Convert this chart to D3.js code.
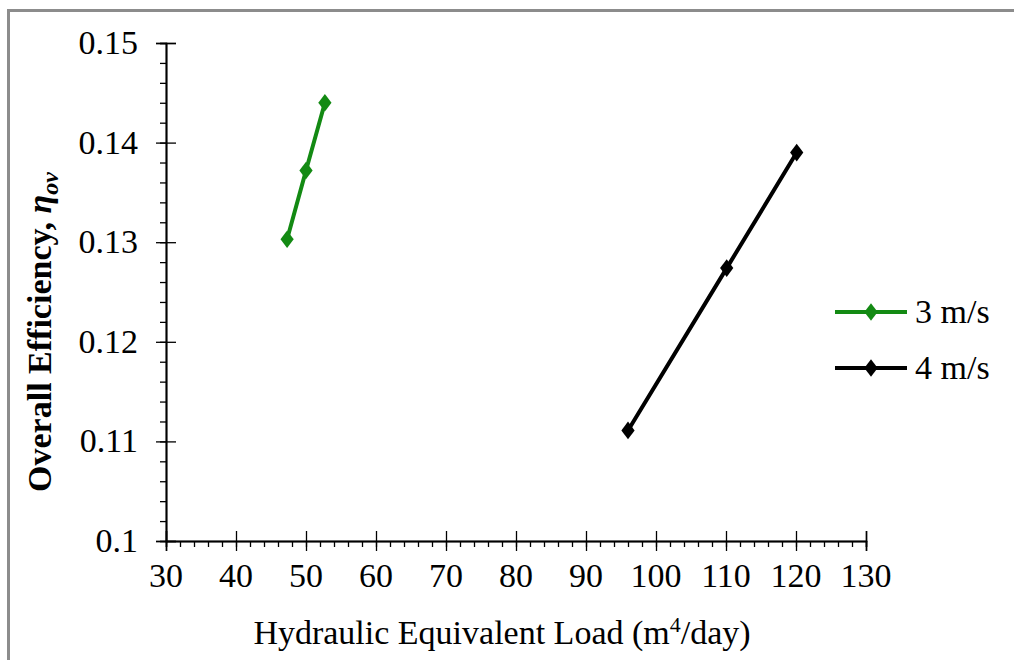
<!DOCTYPE html>
<html>
<head>
<meta charset="utf-8">
<script src="https://cdn.jsdelivr.net/npm/d3@7"></script>
<style>
  body { margin: 0; background: #fff; }
  svg { display: block; }
</style>
</head>
<body>
<div id="chart"></div>
<script>
// data
const series = ["3 m/s", "4 m/s"]
const colors = ["#138a13", "#000000"]
const loadX3 = [47.3, 50.0, 52.7]
const eff3 = [0.1303, 0.1372, 0.1440]
const loadX4 = [96.0, 110.1, 120.1]
const eff4 = [0.1111, 0.1274, 0.1390]
const xTicks = [30, 40, 50, 60, 70, 80, 90, 100, 110, 120, 130]
const yTicks = [0.1, 0.11, 0.12, 0.13, 0.14, 0.15]

const width = 1014, height = 660
const margin = {left: 166, top: 43}
const plotW = 700, plotH = 498

const svg = d3.select("#chart").append("svg")
  .attr("width", width)
  .attr("height", height)

// grey frame (right/bottom run off the picture)
svg.append("rect")
  .attr("x", 8.5).attr("y", 10.5)
  .attr("width", 1100).attr("height", 800)
  .attr("fill", "none")
  .attr("stroke", "#8c8c8c")
  .attr("stroke-width", 3)

const x = d3.scaleLinear().domain([30, 130]).range([margin.left, margin.left + plotW])
const y = d3.scaleLinear().domain([0.1, 0.15]).range([margin.top + plotH, margin.top])

const font = "'Liberation Serif', 'Times New Roman', serif"
const fs = "34px"

// x axis: minor ticks below, major ticks crossing
const xAxis = svg.append("g").attr("transform", `translate(0, ${y(0.1)})`)
xAxis.call(d3.axisBottom(x).tickValues(d3.range(30, 131, 2)).tickSize(6).tickFormat(""))
xAxis.append("g").call(d3.axisBottom(x).tickValues(xTicks).tickSize(10).tickFormat(""))
xAxis.append("g").call(d3.axisTop(x).tickValues(xTicks).tickSize(10).tickFormat(""))
xAxis.selectAll("path.domain").attr("stroke", "#000").attr("stroke-width", 1.5)
xAxis.selectAll("line").attr("stroke", "#000").attr("stroke-width", 1.3)
svg.append("g").selectAll("text")
  .data(xTicks).enter().append("text")
  .attr("x", d => x(d))
  .attr("y", y(0.1) + 46)
  .attr("text-anchor", "middle")
  .style("font-family", font)
  .style("font-size", fs)
  .text(d => d)

// y axis: minor ticks left, major ticks crossing
const yAxis = svg.append("g").attr("transform", `translate(${x(30)}, 0)`)
yAxis.call(d3.axisLeft(y).tickValues(d3.range(0, 26).map(i => 0.1 + i * 0.002)).tickSize(6).tickFormat(""))
yAxis.append("g").call(d3.axisLeft(y).tickValues(yTicks).tickSize(10).tickFormat(""))
yAxis.append("g").call(d3.axisRight(y).tickValues(yTicks).tickSize(10).tickFormat(""))
yAxis.selectAll("path.domain").attr("stroke", "#000").attr("stroke-width", 1.5)
yAxis.selectAll("line").attr("stroke", "#000").attr("stroke-width", 1.3)
svg.append("g").selectAll("text")
  .data(yTicks).enter().append("text")
  .attr("x", x(30) - 28)
  .attr("y", d => y(d) + 11)
  .attr("text-anchor", "end")
  .style("font-family", font)
  .style("font-size", fs)
  .text(d => d)

// series
const data = [
  loadX3.map((v, i) => ({x: v, y: eff3[i]})),
  loadX4.map((v, i) => ({x: v, y: eff4[i]}))
]
const line = d3.line().x(d => x(d.x)).y(d => y(d.y))
const diamond = d3.symbol().type(d3.symbolDiamond).size(90)

data.forEach((pts, k) => {
  svg.append("path")
    .datum(pts)
    .attr("d", line)
    .attr("fill", "none")
    .attr("stroke", colors[k])
    .attr("stroke-width", 4)
  svg.selectAll(null)
    .data(pts).enter().append("path")
    .attr("d", diamond)
    .attr("transform", d => `translate(${x(d.x)},${y(d.y)}) scale(1.3,1)`)
    .attr("fill", colors[k])
})

// legend
const legend = svg.append("g").attr("transform", "translate(835, 312)")
series.forEach((s, k) => {
  const g = legend.append("g").attr("transform", `translate(0, ${k * 56})`)
  g.append("line")
    .attr("x1", 0).attr("x2", 72)
    .attr("stroke", colors[k]).attr("stroke-width", 4)
  g.append("path")
    .attr("d", diamond)
    .attr("transform", "translate(36,0) scale(1.3,1)")
    .attr("fill", colors[k])
  g.append("text")
    .attr("x", 80).attr("y", 11)
    .style("font-family", font)
    .style("font-size", fs)
    .text(s)
})

// axis titles
const xLabel = svg.append("text")
  .attr("x", 502).attr("y", 644)
  .attr("text-anchor", "middle")
  .style("font-family", font)
  .style("font-size", fs)
xLabel.append("tspan").text("Hydraulic Equivalent Load (m")
xLabel.append("tspan").attr("dy", -12).style("font-size", "22px").text("4")
xLabel.append("tspan").attr("dy", 12).text("/day)")

const yLabel = svg.append("text")
  .attr("text-anchor", "middle")
  .attr("transform", `translate(51, 332) rotate(-90)`)
  .style("font-family", font)
  .style("font-size", fs)
  .style("font-weight", "bold")
yLabel.append("tspan").text("Overall Efficiency, ")
yLabel.append("tspan").style("font-style", "italic").text("η")
yLabel.append("tspan").attr("dy", 7).style("font-style", "italic").style("font-size", "24px").text("ov")
</script>
</body>
</html>
